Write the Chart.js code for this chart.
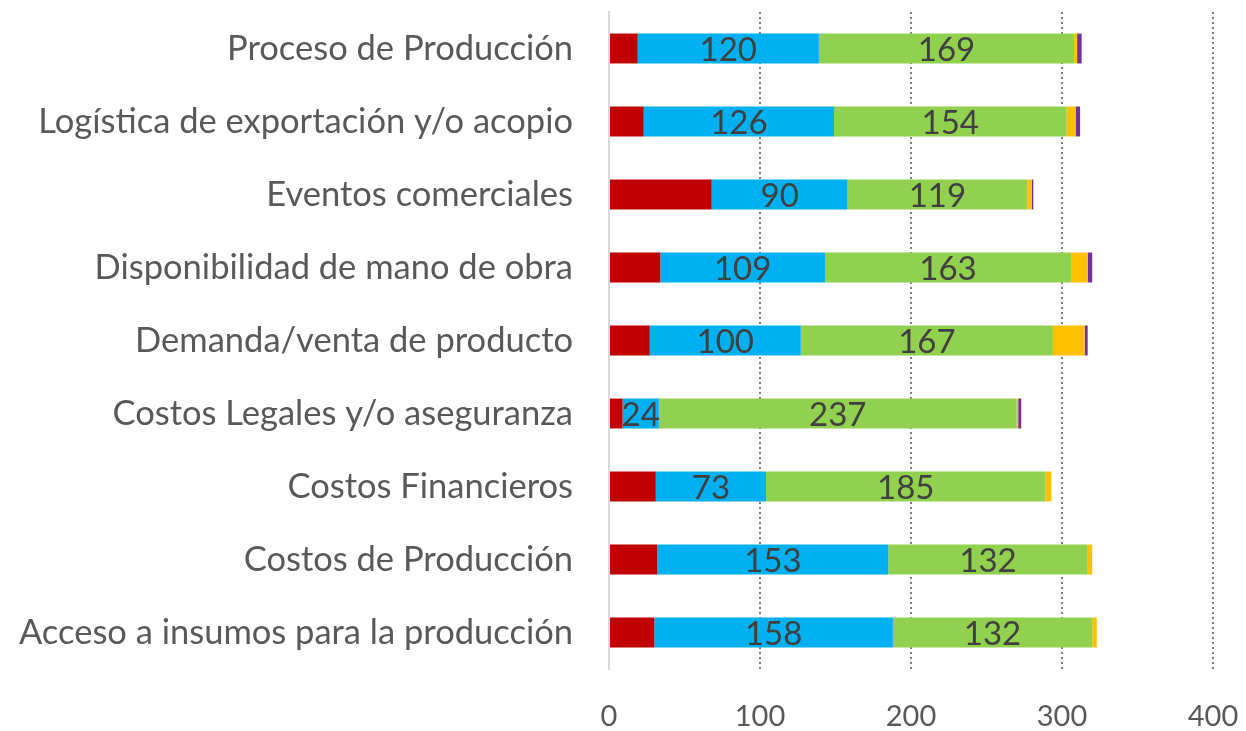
<!DOCTYPE html>
<html>
<head>
<meta charset="utf-8">
<script src="https://cdn.jsdelivr.net/npm/chart.js@4.4.0/dist/chart.umd.min.js"></script>
<style>
html,body{margin:0;padding:0;background:#fff;}
#wrap{width:1246px;height:731px;position:relative;}
</style>
</head>
<body>
<div id="wrap"><canvas id="c" width="1246" height="731"></canvas></div>
<script>
const categories = [
  "Proceso de Producción",
  "Logística de exportación y/o acopio",
  "Eventos comerciales",
  "Disponibilidad de mano de obra",
  "Demanda/venta de producto",
  "Costos Legales y/o aseguranza",
  "Costos Financieros",
  "Costos de Producción",
  "Acceso a insumos para la producción"
];
const serieRoja = [19, 23, 68, 34, 27, 9, 31, 32, 30];
const serieAzul = [120, 126, 90, 109, 100, 24, 73, 153, 158];
const serieVerde = [169, 154, 119, 163, 167, 237, 185, 132, 132];
const serieAmarilla = [2, 6, 3, 11, 21, 1, 4, 3, 3];
const serieMorada = [3, 3, 1, 3, 2, 2, 0, 0, 0];
const xTicks = [0, 100, 200, 300, 400];

const FONT = "Lato, 'Noto Sans', sans-serif";

const labelPlugin = {
  id: 'segLabels',
  afterDatasetsDraw(chart) {
    const ctx = chart.ctx;
    ctx.save();
    ctx.font = "33px " + FONT;
    ctx.fillStyle = '#404040';
    ctx.textAlign = 'center';
    ctx.textBaseline = 'middle';
    [1, 2].forEach(di => {
      const meta = chart.getDatasetMeta(di);
      meta.data.forEach((el, i) => {
        const v = chart.data.datasets[di].data[i];
        if (!v) return;
        const x = (el.x + el.base) / 2;
        ctx.fillText(String(v), x, el.y + 2);
      });
    });
    ctx.restore();
  }
};

const mk = (label, data, color) => ({
  label, data, backgroundColor: color, borderWidth: 0,
  barPercentage: 0.41, categoryPercentage: 1.0
});

new Chart(document.getElementById('c'), {
  type: 'bar',
  data: {
    labels: categories,
    datasets: [
      mk('Serie 1', serieRoja, '#C00000'),
      mk('Serie 2', serieAzul, '#00B0F0'),
      mk('Serie 3', serieVerde, '#92D050'),
      mk('Serie 4', serieAmarilla, '#FFC000'),
      mk('Serie 5', serieMorada, '#7030A0')
    ]
  },
  options: {
    indexAxis: 'y',
    responsive: false,
    animation: false,
    layout: { padding: { top: 12, right: 33, left: 0, bottom: 0 } },
    plugins: { legend: { display: false }, tooltip: { enabled: false } },
    scales: {
      x: {
        stacked: true,
        min: 0, max: 400,
        afterBuildTicks: s => { s.ticks = xTicks.map(v => ({ value: v })); },
        afterFit: s => { s.height = 62; s.paddingLeft = 0; s.paddingRight = 0; },
        ticks: { font: { family: FONT, size: 29 }, color: '#595959', padding: 30 },
        grid: {
          drawTicks: false,
          lineWidth: 2,
          color: c => (c.tick && c.tick.value === 0) ? 'rgba(0,0,0,0)' : '#7f7f7f'
        },
        border: { display: false, dash: [2, 3] }
      },
      y: {
        stacked: true,
        afterFit: s => { s.width = 609; s.paddingTop = 0; s.paddingBottom = 0; },
        ticks: { font: { family: FONT, size: 34.5 }, color: '#595959', padding: 36 },
        grid: { display: false, drawTicks: false },
        border: { display: true, color: '#d9d9d9', width: 2 }
      }
    }
  },
  plugins: [labelPlugin]
});
</script>
</body>
</html>
